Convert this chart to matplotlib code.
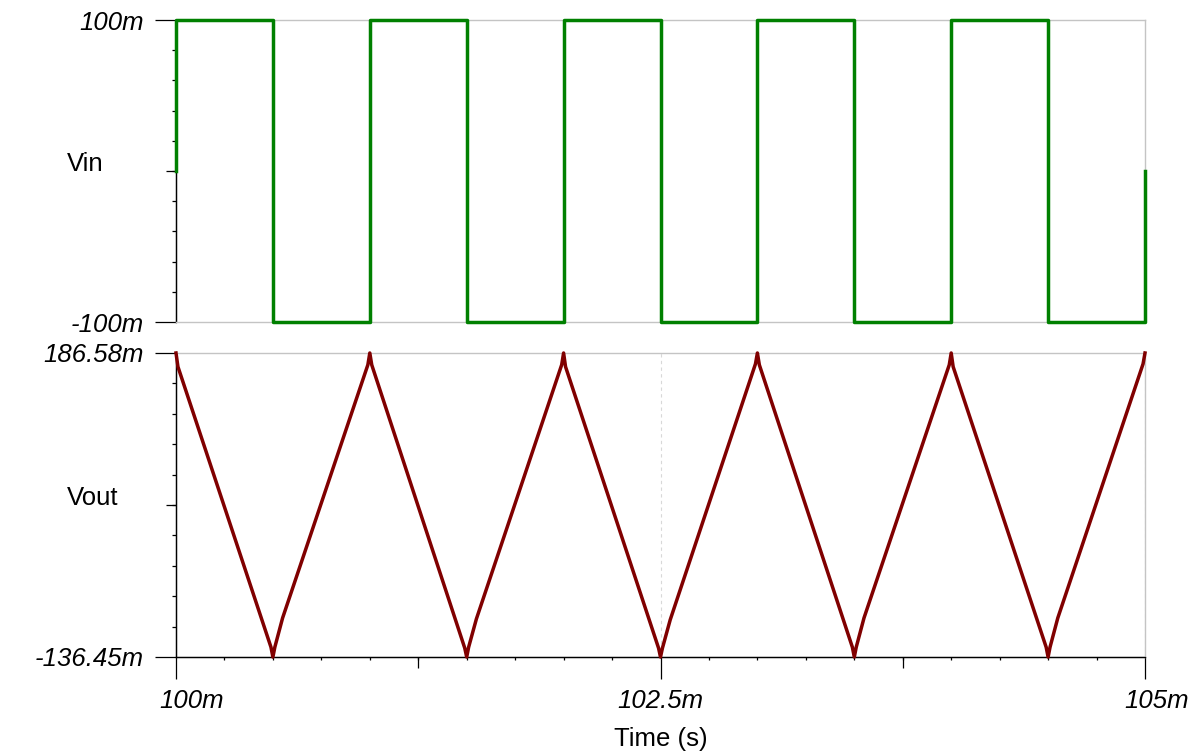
import numpy as np
import matplotlib.pyplot as plt
import matplotlib.transforms as mtransforms

plt.rcParams['font.family'] = ['Liberation Sans', 'DejaVu Sans']

# input square wave (time in ms, value in V)
vin_t = [100.0, 100.0, 100.5, 100.5, 101.0, 101.0, 101.5, 101.5, 102.0, 102.0, 102.5,
         102.5, 103.0, 103.0, 103.5, 103.5, 104.0, 104.0, 104.5, 104.5, 105.0, 105.0]
vin_v = [0.0, 0.1, 0.1, -0.1, -0.1, 0.1, 0.1, -0.1, -0.1, 0.1, 0.1,
         -0.1, -0.1, 0.1, 0.1, -0.1, -0.1, 0.1, 0.1, -0.1, -0.1, 0.0]

# output triangle wave
vout_t = [100.0, 100.01, 100.49, 100.5, 100.51, 100.55, 100.99,
          101.0, 101.01, 101.49, 101.5, 101.51, 101.55, 101.99,
          102.0, 102.01, 102.49, 102.5, 102.51, 102.55, 102.99,
          103.0, 103.01, 103.49, 103.5, 103.51, 103.55, 103.99,
          104.0, 104.01, 104.49, 104.5, 104.51, 104.55, 104.99,
          105.0]
vout_v = [0.1866, 0.172, -0.126, -0.1365, -0.126, -0.095, 0.174,
          0.1866, 0.174, -0.127, -0.1365, -0.126, -0.096, 0.174,
          0.1866, 0.172, -0.127, -0.1365, -0.127, -0.097, 0.175,
          0.1866, 0.174, -0.126, -0.1365, -0.126, -0.095, 0.174,
          0.1866, 0.172, -0.126, -0.1365, -0.126, -0.095, 0.175,
          0.1866]

vin_lim = [-0.1, 0.1]
vin_ticklabels = ["-100m", "100m"]
vout_lim = [-0.13645, 0.18658]
vout_ticklabels = ["-136.45m", "186.58m"]
x_lim = [100.0, 105.0]
x_ticks = [100.0, 102.5, 105.0]
x_ticklabels = ["100m", "102.5m", "105m"]
x_midticks = [101.25, 103.75]

grey = "#c4c4c4"
fs = 18.5

fig = plt.figure(figsize=(11.88, 7.55), dpi=100)
ax1 = fig.add_axes([176/1188, 1-322/755, 969/1188, 302/755])
ax2 = fig.add_axes([176/1188, 1-657/755, 969/1188, 304/755])

ax1.plot(vin_t, vin_v, color="#008000", lw=2.5, clip_on=False, zorder=5)
ax2.plot(vout_t, vout_v, color="#800000", lw=2.5, clip_on=False, zorder=5)


def style_y(ax, lim, labels, name):
    ax.set_xlim(x_lim)
    ax.set_ylim(lim)
    ax.set_yticks(lim)
    ax.set_yticklabels(labels, fontsize=fs, style="italic")
    ax.set_yticks(np.linspace(lim[0], lim[1], 11), minor=True)
    ax.tick_params(axis="y", which="major", length=15, width=0.9, pad=8, direction="out")
    ax.tick_params(axis="y", which="minor", length=3, width=0.9, direction="out")
    sec = ax.secondary_yaxis("left")
    sec.set_yticks([(lim[0] + lim[1]) / 2])
    sec.tick_params(length=7.5, width=0.9, labelleft=False)
    sec.spines["left"].set_linewidth(0.9)
    for s in ["top", "right", "bottom"]:
        ax.spines[s].set_color(grey)
        ax.spines[s].set_linewidth(1.0)
    ax.spines["left"].set_linewidth(0.9)
    ax.text(-0.113, 0.5, name, transform=ax.transAxes, fontsize=fs,
            ha="left", va="baseline")


style_y(ax1, vin_lim, vin_ticklabels, "Vin")
style_y(ax2, vout_lim, vout_ticklabels, "Vout")

ax1.set_xticks([])
ax1.set_xticks([], minor=True)

ax2.set_xticks(x_ticks)
ax2.set_xticklabels(x_ticklabels, fontsize=fs, style="italic")
ax2.set_xticks(np.arange(100.0, 105.01, 0.25), minor=True)
ax2.tick_params(axis="x", which="major", length=16, width=0.9, pad=7)
ax2.tick_params(axis="x", which="minor", length=2.5, width=0.9)
ax2.spines["bottom"].set_color("black")
ax2.spines["bottom"].set_linewidth(0.9)
secx = ax2.secondary_xaxis("bottom")
secx.set_xticks(x_midticks)
secx.tick_params(length=8, width=0.9, labelbottom=False)
secx.spines["bottom"].set_linewidth(0.9)

# first and last tick labels sit a bit to the right in the original
for i, dx in [(0, 16), (2, 12)]:
    lab = ax2.xaxis.get_major_ticks()[i].label1
    lab.set_transform(lab.get_transform() +
                      mtransforms.ScaledTranslation(dx / 100, 0, fig.dpi_scale_trans))

ax2.grid(axis="x", which="major", color="#d8d8d8", ls=(0, (3, 3)), lw=0.8)
ax2.set_xlabel("Time (s)", fontsize=fs, labelpad=10)

fig.savefig("out.png", dpi=100)
